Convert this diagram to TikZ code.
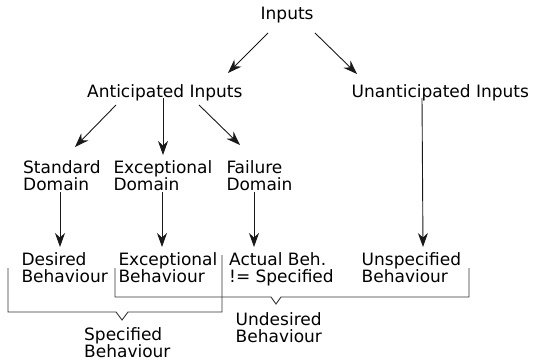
\documentclass[tikz,border=0pt]{standalone}
\usepackage{fontspec}
\setmainfont{DejaVu Sans}
\usetikzlibrary{arrows.meta}
\begin{document}
\begin{tikzpicture}[x=1pt,y=-1pt,
  lbl/.style={inner sep=0pt,align=left,anchor=north west,
    font=\fontsize{17}{17.2}\selectfont},
  arr/.style={draw=black!90,line width=0.9pt,
    -{Stealth[length=14pt,width=10pt,inset=4.5pt]}},
  brace/.style={draw=black!80,line width=0.9pt}]
  \useasboundingbox (0,0) rectangle (534,363);

  % nodes
  \node[lbl] (inp)   at (260.5,6.5) {Inputs};
  \node[lbl] (ant)   at (87,84.5)   {Anticipated Inputs};
  \node[lbl] (unant) at (351.5,84.5){Unanticipated Inputs};
  \node[lbl] (std)   at (23,160.5)  {Standard\\Domain};
  \node[lbl] (exc)   at (113.3,160.5){Exceptional\\Domain};
  \node[lbl] (fail)  at (226.3,160.5){Failure\\Domain};
  \node[lbl] (des)   at (21.3,252.5) {Desired\\Behaviour};
  \node[lbl] (excb)  at (118.3,252.5){Exceptional\\Behaviour};
  \node[lbl] (act)   at (229,252.5)  {Actual Beh.\\!= Specified};
  \node[lbl] (unsp)  at (361.5,252.5){Unspecified\\Behaviour};
  \node[lbl] (spec)  at (84,327.5)   {Specified\\Behaviour};
  \node[lbl] (undes) at (235.5,312.5){Undesired\\Behaviour};

  % arrows
  \draw[arr] ([shift={(7.5,26.5)}]inp.north west) -- ([shift={(141,-11.5)}]ant.north west);
  \draw[arr] ([shift={(54.5,26.5)}]inp.north west) -- ([shift={(5.5,-10.5)}]unant.north west);
  \draw[arr] ([shift={(29,20.5)}]ant.north west) -- ([shift={(52,-13.5)}]std.north west);
  \draw[arr] ([shift={(76,13.5)}]ant.north west) -- ([shift={(49.7,-5.5)}]exc.north west);
  \draw[arr] ([shift={(112,20.5)}]ant.north west) -- ([shift={(13.7,-15.5)}]fail.north west);
  \draw[arr] ([shift={(70.5,13.5)}]unant.north west) -- ([shift={(61.5,-5.5)}]unsp.north west);
  \draw[arr] ([shift={(37,31.5)}]std.north west) -- ([shift={(38.7,-5.5)}]des.north west);
  \draw[arr] ([shift={(48.7,31.5)}]exc.north west) -- ([shift={(43.7,-5.5)}]excb.north west);
  \draw[arr] ([shift={(27.7,31.5)}]fail.north west) -- ([shift={(25,-5.5)}]act.north west);

  % grouping brackets
  \draw[brace] (8,268) -- (8,312) -- (116,312) -- (122,320) -- (128,312)
    -- (222,312) -- (222,255);
  \draw[brace] (115,268) -- (115,297) -- (271,297) -- (276,304)
    -- (281,297) -- (469,297) -- (469,268);
\end{tikzpicture}
\end{document}
